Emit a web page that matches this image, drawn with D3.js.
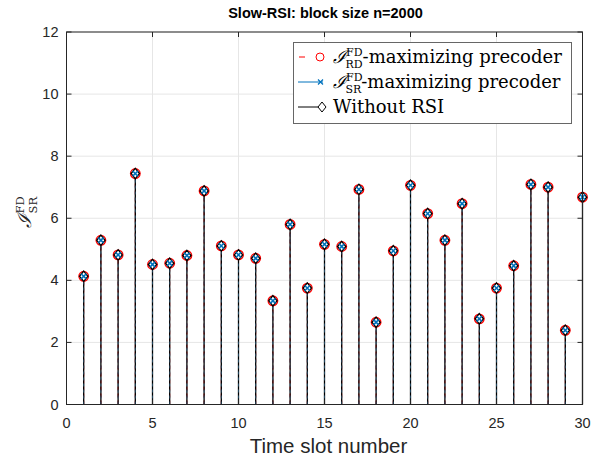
<!DOCTYPE html>
<html><head><meta charset="utf-8">
<script src="https://cdn.jsdelivr.net/npm/d3@7"></script>
<style>
body{margin:0;background:#fff;}
svg{display:block;}
</style></head>
<body>
<svg id="c" width="603" height="456"></svg>
<script>
const slots = d3.range(1, 31);
const rdValues = [4.13,5.29,4.82,7.44,4.51,4.55,4.80,6.88,5.11,4.82,4.71,3.34,5.80,3.75,5.16,5.09,6.93,2.65,4.95,7.06,6.15,5.29,6.47,2.76,3.75,4.47,7.09,7.00,2.39,6.68];
const srValues = [4.13,5.29,4.82,7.44,4.51,4.55,4.80,6.88,5.11,4.82,4.71,3.34,5.80,3.75,5.16,5.09,6.93,2.65,4.95,7.06,6.15,5.29,6.47,2.76,3.75,4.47,7.09,7.00,2.39,6.68];
const noRsiValues = [4.13,5.29,4.82,7.44,4.51,4.55,4.80,6.88,5.11,4.82,4.71,3.34,5.80,3.75,5.16,5.09,6.93,2.65,4.95,7.06,6.15,5.29,6.47,2.76,3.75,4.47,7.09,7.00,2.39,6.68];
const xTicks = [0,5,10,15,20,25,30];
const yTicks = [0,2,4,6,8,10,12];
const titleText = "Slow-RSI: block size n=2000";
const xLabel = "Time slot number";

const svg = d3.select("#c");
const L = 66.5, R = 582.5, T = 32, B = 404.5;
const x = d3.scaleLinear().domain([0,30]).range([L,R]);
const y = d3.scaleLinear().domain([0,12]).range([B,T]);
const axisColor = "#262626";

// grid
const g = svg.append("g");
g.selectAll(".gx").data(xTicks).enter().append("line")
  .attr("x1", d=>x(d)).attr("x2", d=>x(d)).attr("y1", T).attr("y2", B)
  .attr("stroke", "#e6e6e6").attr("stroke-width", 1);
g.selectAll(".gy").data(yTicks).enter().append("line")
  .attr("y1", d=>y(d)).attr("y2", d=>y(d)).attr("x1", L).attr("x2", R)
  .attr("stroke", "#e6e6e6").attr("stroke-width", 1);

// stems
const data = slots.map((s,i)=>({s, rd: rdValues[i], sr: srValues[i], nr: noRsiValues[i]}));
const st = svg.append("g");
st.selectAll(".s1").data(data).enter().append("line")
  .attr("x1", d=>x(d.s)).attr("x2", d=>x(d.s)).attr("y1", y(0)).attr("y2", d=>y(d.rd))
  .attr("stroke", "#ff0000").attr("stroke-width", 1).attr("stroke-dasharray","4,3");
st.selectAll(".s3").data(data).enter().append("line")
  .attr("x1", d=>x(d.s)).attr("x2", d=>x(d.s)).attr("y1", y(0)).attr("y2", d=>y(d.nr))
  .attr("stroke", "#000").attr("stroke-width", 1.3);
st.selectAll(".s2").data(data).enter().append("line")
  .attr("x1", d=>x(d.s)).attr("x2", d=>x(d.s)).attr("y1", y(0)).attr("y2", d=>y(d.sr))
  .attr("stroke", "#2a5f80").attr("stroke-width", 1).attr("stroke-dasharray","3,3").attr("opacity",0.7);

// markers
const mk = svg.append("g");
mk.selectAll(".c").data(data).enter().append("circle")
  .attr("cx", d=>x(d.s)).attr("cy", d=>y(d.rd)).attr("r", 4.8)
  .attr("fill","none").attr("stroke","#ff0000").attr("stroke-width",1.3);
const dia = (cx,cy,r)=>`M${cx},${cy-r}L${cx+r*0.8},${cy}L${cx},${cy+r}L${cx-r*0.8},${cy}Z`;
mk.selectAll(".d").data(data).enter().append("path")
  .attr("d", d=>dia(x(d.s), y(d.nr), 5.2))
  .attr("fill","#fff").attr("stroke","#000").attr("stroke-width",1.3);
mk.selectAll(".x").data(data).enter().append("path")
  .attr("d", d=>{const cx=x(d.s), cy=y(d.sr), r=2.6; return `M${cx-r},${cy-r}L${cx+r},${cy+r}M${cx-r},${cy+r}L${cx+r},${cy-r}`;})
  .attr("stroke","#0072bd").attr("stroke-width",1.6).attr("fill","none");

// box + ticks
const ax = svg.append("g");
ax.append("rect").attr("x",L).attr("y",T).attr("width",R-L).attr("height",B-T)
  .attr("fill","none").attr("stroke",axisColor).attr("stroke-width",1);
const tl = 5;
xTicks.forEach(t=>{
  ax.append("line").attr("x1",x(t)).attr("x2",x(t)).attr("y1",B).attr("y2",B-tl).attr("stroke",axisColor);
  ax.append("line").attr("x1",x(t)).attr("x2",x(t)).attr("y1",T).attr("y2",T+tl).attr("stroke",axisColor);
});
yTicks.forEach(t=>{
  ax.append("line").attr("y1",y(t)).attr("y2",y(t)).attr("x1",L).attr("x2",L+tl).attr("stroke",axisColor);
  ax.append("line").attr("y1",y(t)).attr("y2",y(t)).attr("x1",R).attr("x2",R-tl).attr("stroke",axisColor);
});
const sans = "'Liberation Sans', Arial, sans-serif";
ax.selectAll(".xt").data(xTicks).enter().append("text")
  .attr("x", d=>x(d)).attr("y", B+23).attr("text-anchor","middle")
  .attr("font-family",sans).attr("font-size",14.5).attr("fill",axisColor).text(d=>d);
ax.selectAll(".yt").data(yTicks).enter().append("text")
  .attr("x", L-8).attr("y", d=>y(d)+5).attr("text-anchor","end")
  .attr("font-family",sans).attr("font-size",14.5).attr("fill",axisColor).text(d=>d);

svg.append("text").attr("x", (L+R)/2+4).attr("y", 453).attr("text-anchor","middle")
  .attr("font-family",sans).attr("font-size",20.5).attr("fill",axisColor).text(xLabel);
svg.append("text").attr("x", (L+R)/2+1).attr("y", 18).attr("text-anchor","middle")
  .attr("font-family",sans).attr("font-size",14.5).attr("font-weight","bold").attr("fill","#000").text(titleText);

// y label
const serif = "'DejaVu Serif','Liberation Serif',serif";
const yl = svg.append("text").attr("transform","translate(31,212) rotate(-90)")
  .attr("text-anchor","middle").attr("font-family",serif).attr("fill",axisColor);
yl.append("tspan").attr("font-size",19).attr("font-style","italic").text("ℐ");
yl.append("tspan").attr("font-size",11.5).attr("dy",-7).text("FD");
yl.append("tspan").attr("font-size",11.5).attr("dx",-17).attr("dy",13).text("SR");

// legend
const lg = svg.append("g");
lg.append("rect").attr("x",293.5).attr("y",42.5).attr("width",278).attr("height",81)
  .attr("fill","#fff").attr("stroke","#666").attr("stroke-width",1);
const items = [
  {sub:"RD", color:"#ff0000", marker:"circle", dash:"4,3"},
  {sub:"SR", color:"#0072bd", marker:"x", dash:null},
  {sub:null, color:"#000", marker:"diamond", dash:null, label:"Without RSI"}
];
const rowY = [57, 82, 107];
items.forEach((it,i)=>{
  const cy = rowY[i];
  const ln = lg.append("line").attr("x1",298).attr("x2",323).attr("y1",cy).attr("y2",cy)
    .attr("stroke",it.color).attr("stroke-width",1);
  if (it.dash) ln.attr("x1",299).attr("x2",305);
  if (it.marker==="circle") lg.append("circle").attr("cx",320).attr("cy",cy).attr("r",4).attr("fill","none").attr("stroke",it.color).attr("stroke-width",1);
  if (it.marker==="x") lg.append("path").attr("d",`M318,${cy-2.5}L323,${cy+2.5}M318,${cy+2.5}L323,${cy-2.5}`).attr("stroke",it.color).attr("stroke-width",1.2);
  if (it.marker==="diamond") lg.append("path").attr("d",dia(322,cy,5)).attr("fill","#fff").attr("stroke","#000").attr("stroke-width",1);
  const t = lg.append("text").attr("x",333).attr("y",cy+6).attr("font-family",serif).attr("font-size",18).attr("fill","#000");
  if (it.sub) {
    t.append("tspan").attr("font-style","italic").text("ℐ");
    t.append("tspan").attr("font-size",11).attr("dy",-7).text("FD");
    t.append("tspan").attr("font-size",11).attr("dx",-17).attr("dy",12).text(it.sub);
    t.append("tspan").attr("dy",-5).text("-maximizing precoder");
  } else {
    t.text(it.label);
  }
});
</script>
</body></html>
